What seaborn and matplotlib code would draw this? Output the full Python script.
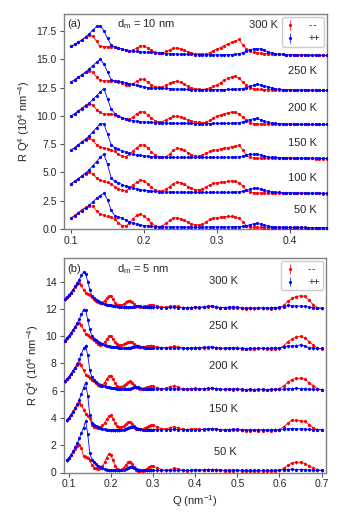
import numpy as np
import pandas as pd
import matplotlib
matplotlib.use("Agg")
import matplotlib.pyplot as plt
from matplotlib.ticker import FormatStrFormatter
import seaborn as sns

nan = np.nan

# ---------------- panel (a): d_m = 10 nm ----------------
q_a = np.round(np.arange(0.100, 0.4501, 0.005), 3)
temps_a = ["50 K", "100 K", "150 K", "200 K", "250 K", "300 K"]
offsets_a = [0, 3, 6, 9, 12, 15]

a50_mm = [0.95, 1.20, 1.45, 1.70, 1.90, 2.05, 2.00, 1.60, 1.30, 1.20,
          1.10, 1.05, 0.85, 0.55, 0.30, 0.25, 0.50, 0.90, 1.20, 1.32,
          1.15, 0.85, 0.50, 0.30, 0.20, 0.25, 0.50, 0.75, 0.95, 1.00,
          0.90, 0.75, 0.60, 0.45, 0.38, 0.35, 0.40, 0.60, 0.85, 0.95,
          1.00, 1.05, 1.08, 1.10, 1.10, 1.08, 0.95, 0.65, 0.30, 0.18,
          0.15, 0.14, 0.13, 0.12, 0.12, 0.12, 0.11, 0.12, 0.11, 0.11,
          0.10, 0.10, 0.10, 0.11, 0.10, 0.10, 0.09, 0.10, 0.09, 0.09,
          0.09]
a50_pp = [0.95, 1.15, 1.40, 1.62, 1.85, 2.10, 2.40, 2.70, 2.95, 3.15,
          2.60, 1.65, 1.15, 1.05, 0.95, 0.80, 0.62, 0.50, 0.42, 0.36,
          0.30, 0.26, 0.22, 0.20, 0.18, 0.17, 0.17, 0.17, 0.18, 0.18,
          0.17, 0.17, 0.16, 0.16, 0.15, 0.15, 0.16, 0.17, 0.18, 0.17,
          0.17, 0.18, 0.17, 0.17, 0.18, 0.18, 0.20, 0.22, 0.28, 0.38,
          0.45, 0.48, 0.42, 0.32, 0.25, 0.20, 0.17, 0.16, 0.15, 0.15,
          0.14, 0.14, 0.13, 0.13, 0.13, 0.12, 0.12, 0.12, 0.12, 0.12,
          0.12]
a100_mm = [0.97, 1.20, 1.45, 1.68, 1.88, 2.00, 1.90, 1.50, 1.30, 1.20,
           1.12, 1.00, 0.70, 0.55, 0.42, 0.38, 0.60, 0.90, 1.15, 1.30,
           1.28, 1.00, 0.68, 0.45, 0.33, 0.35, 0.50, 0.75, 1.00, 1.15,
           1.10, 0.95, 0.75, 0.58, 0.48, 0.44, 0.50, 0.70, 0.90, 1.02,
           1.08, 1.12, 1.15, 1.20, 1.24, 1.22, 1.10, 0.80, 0.42, 0.25,
           0.20, 0.18, 0.18, 0.17, 0.17, 0.17, 0.16, 0.16, 0.16, 0.16,
           0.15, 0.15, 0.15, 0.15, 0.14, 0.14, 0.14, 0.14, 0.14, 0.13,
           0.13]
a100_pp = [0.97, 1.20, 1.45, 1.70, 1.95, 2.25, 2.60, 2.95, 3.35, 3.60,
           2.70, 1.50, 1.20, 1.10, 0.92, 0.80, 0.70, 0.60, 0.52, 0.46,
           0.42, 0.38, 0.34, 0.31, 0.29, 0.28, 0.27, 0.26, 0.26, 0.25,
           0.25, 0.25, 0.24, 0.24, 0.23, 0.23, 0.23, 0.23, 0.24, 0.24,
           0.24, 0.24, 0.24, 0.24, 0.25, 0.26, 0.28, 0.32, 0.40, 0.50,
           0.58, 0.60, 0.50, 0.40, 0.33, 0.28, 0.25, 0.23, 0.22, 0.21,
           0.20, 0.19, 0.19, 0.18, 0.18, 0.17, 0.17, 0.16, 0.16, 0.15,
           0.15]
a150_mm = [0.95, 1.18, 1.42, 1.65, 1.88, 2.00, 1.85, 1.45, 1.25, 1.17,
           1.10, 1.00, 0.85, 0.60, 0.45, 0.40, 0.60, 0.90, 1.20, 1.45,
           1.42, 1.20, 0.80, 0.55, 0.40, 0.33, 0.40, 0.60, 0.95, 1.12,
           1.10, 0.95, 0.75, 0.58, 0.47, 0.44, 0.50, 0.70, 0.85, 0.95,
           1.02, 1.08, 1.12, 1.20, 1.28, 1.33, 1.42, 1.00, 0.50, 0.32,
           0.28, 0.27, 0.26, 0.26, 0.25, 0.25, 0.25, 0.25, 0.24, 0.24,
           0.24, 0.24, 0.24, 0.23, 0.23, 0.23, 0.23, 0.22, 0.22, 0.22,
           0.22]
a150_pp = [0.97, 1.20, 1.45, 1.70, 1.95, 2.25, 2.60, 2.95, 3.30, 3.30,
           2.40, 1.45, 1.15, 1.05, 0.90, 0.78, 0.68, 0.60, 0.55, 0.50,
           0.46, 0.43, 0.40, 0.38, 0.36, 0.35, 0.35, 0.34, 0.34, 0.33,
           0.33, 0.33, 0.32, 0.32, 0.32, 0.32, 0.32, 0.33, 0.33, 0.33,
           0.33, 0.33, 0.34, 0.34, 0.35, 0.36, 0.38, 0.45, 0.55, 0.60,
           0.62, 0.60, 0.53, 0.45, 0.38, 0.34, 0.32, 0.31, 0.30, 0.29,
           0.28, 0.28, 0.27, 0.27, 0.26, 0.26, 0.25, 0.25, 0.24, 0.24,
           0.24]
a200_mm = [0.97, 1.20, 1.45, 1.70, 1.95, 2.08, 1.95, 1.55, 1.30, 1.20,
           1.17, 1.15, 1.10, 0.95, 0.85, 0.72, 0.70, 0.90, 1.20, 1.38,
           1.35, 1.10, 0.80, 0.58, 0.47, 0.50, 0.65, 0.82, 0.95, 0.97,
           0.90, 0.78, 0.65, 0.56, 0.48, 0.42, 0.38, 0.42, 0.60, 0.82,
           0.97, 1.08, 1.18, 1.28, 1.35, 1.33, 1.18, 0.90, 0.60, 0.40,
           0.32, 0.30, 0.29, 0.28, 0.28, 0.27, 0.27, 0.27, 0.26, 0.26,
           0.26, 0.26, 0.25, 0.25, 0.25, 0.25, 0.24, 0.24, 0.24, 0.24,
           0.24]
a200_pp = [0.97, 1.18, 1.40, 1.62, 1.88, 2.15, 2.45, 2.80, 3.10, 3.42,
           2.50, 1.60, 1.20, 1.00, 0.85, 0.72, 0.65, 0.58, 0.53, 0.49,
           0.46, 0.44, 0.42, 0.40, 0.39, 0.38, 0.37, 0.36, 0.35, 0.35,
           0.34, 0.34, 0.33, 0.33, 0.32, 0.32, 0.32, 0.32, 0.32, 0.33,
           0.33, 0.33, 0.33, 0.34, 0.35, 0.37, 0.40, 0.48, 0.58, 0.68,
           0.75, 0.77, 0.65, 0.52, 0.42, 0.36, 0.33, 0.31, 0.30, 0.29,
           0.28, 0.28, 0.27, 0.27, 0.26, 0.26, 0.25, 0.25, 0.25, 0.24,
           0.24]
a250_mm = [1.00, 1.20, 1.42, 1.65, 1.85, 2.00, 1.85, 1.45, 1.15, 1.10,
           1.12, 1.12, 1.05, 1.00, 0.90, 0.75, 0.72, 0.85, 1.05, 1.22,
           1.22, 1.00, 0.75, 0.58, 0.52, 0.55, 0.70, 0.88, 1.02, 1.06,
           0.98, 0.82, 0.62, 0.50, 0.42, 0.36, 0.33, 0.38, 0.50, 0.62,
           0.72, 0.95, 1.20, 1.32, 1.45, 1.53, 1.35, 1.02, 0.70, 0.50,
           0.40, 0.36, 0.34, 0.33, 0.32, 0.32, 0.31, 0.31, 0.30, 0.30,
           0.29, 0.29, 0.29, 0.28, 0.28, 0.28, 0.27, 0.27, 0.27, 0.26,
           0.26]
a250_pp = [1.00, 1.20, 1.42, 1.65, 1.90, 2.15, 2.45, 2.75, 3.00, 2.60,
           1.90, 1.20, 1.10, 1.05, 1.00, 0.92, 0.85, 0.78, 0.70, 0.62,
           0.56, 0.50, 0.48, 0.46, 0.45, 0.44, 0.43, 0.41, 0.39, 0.37,
           0.36, 0.35, 0.34, 0.33, 0.33, 0.32, 0.32, 0.32, 0.32, 0.32,
           0.33, 0.33, 0.33, 0.34, 0.35, 0.36, 0.38, 0.42, 0.50, 0.62,
           0.72, 0.80, 0.75, 0.65, 0.56, 0.47, 0.40, 0.35, 0.33, 0.32,
           0.31, 0.30, 0.30, 0.29, 0.29, 0.28, 0.28, 0.27, 0.27, 0.26,
           0.26]
a300_mm = [1.15, 1.32, 1.52, 1.72, 1.95, 2.12, 2.05, 1.60, 1.15, 1.12,
           1.12, 1.12, 1.10, 1.02, 0.92, 0.85, 0.78, 0.82, 1.00, 1.18,
           1.20, 1.02, 0.80, 0.62, 0.56, 0.58, 0.70, 0.85, 0.98, 1.02,
           0.95, 0.80, 0.66, 0.58, 0.52, 0.48, 0.45, 0.47, 0.60, 0.78,
           0.92, 1.05, 1.22, 1.38, 1.50, 1.62, 1.77, 1.30, 0.95, 0.72,
           0.62, 0.58, 0.55, 0.52, 0.50, 0.48, 0.47, 0.45, 0.44, 0.43,
           0.42, 0.41, 0.40, 0.40, 0.39, 0.38, 0.38, 0.37, 0.36, 0.36,
           0.35]
a300_pp = [1.15, 1.32, 1.52, 1.75, 2.00, 2.28, 2.60, 2.92, 2.95, 2.55,
           1.85, 1.30, 1.08, 0.98, 0.90, 0.82, 0.76, 0.72, 0.70, 0.68,
           0.66, 0.64, 0.62, 0.60, 0.56, 0.53, 0.50, 0.49, 0.48, 0.47,
           0.46, 0.45, 0.45, 0.44, 0.43, 0.42, 0.42, 0.41, 0.41, 0.41,
           0.41, 0.41, 0.42, 0.42, 0.43, 0.45, 0.50, 0.60, 0.72, 0.85,
           0.93, 0.96, 0.92, 0.80, 0.66, 0.56, 0.50, 0.46, 0.44, 0.42,
           0.41, 0.40, 0.39, 0.39, 0.38, 0.38, 0.37, 0.37, 0.36, 0.36,
           0.35]
red_a = [a50_mm, a100_mm, a150_mm, a200_mm, a250_mm, a300_mm]
blue_a = [a50_pp, a100_pp, a150_pp, a200_pp, a250_pp, a300_pp]

# ---------------- panel (b): d_m = 5 nm ----------------
q_b = np.round(np.concatenate([np.arange(0.090, 0.3001, 0.005),
                               np.arange(0.31, 0.7001, 0.01)]), 3)
temps_b = ["50 K", "150 K", "200 K", "250 K", "300 K"]
offsets_b = [0, 3, 6, 9, 12]

b50_mm = [nan, 0.90, 1.05, 1.28, 1.50, 1.72, 1.92, 2.05, 1.80, 1.20,
          1.15, 1.10, 0.90, 0.55, 0.35, 0.30, 0.28, 0.30, 0.45, 0.75,
          1.10, 1.38, 1.30, 0.90, 0.50, 0.25, 0.20, 0.22, 0.35, 0.55,
          0.75, 0.80, 0.65, 0.40, 0.18, 0.10, 0.10, 0.12, 0.18, 0.28,
          0.38, 0.45, 0.45,
          0.35, 0.22, 0.15, 0.20, 0.30, 0.25, 0.15, 0.12, 0.15, 0.20,
          0.18, 0.15, 0.22, 0.20, 0.15, 0.15, 0.10, 0.12, 0.10, 0.15,
          0.10, 0.08, 0.08, 0.10, 0.10, 0.12, 0.10, 0.08, 0.10, 0.18,
          0.30, 0.55, 0.70, 0.75, 0.75, 0.65, 0.50, 0.35, 0.20, 0.15]
b50_pp = [nan, 0.90, 1.05, 1.28, 1.55, 1.85, 2.15, 2.50, 2.90, 3.30,
          3.80, 2.80, 1.40, 0.95, 0.75, 0.60, 0.48, 0.38, 0.30, 0.24,
          0.20, 0.17, 0.16, 0.15, 0.15, 0.15, 0.16, 0.18, 0.22, 0.28,
          0.35, 0.40, 0.40, 0.35, 0.28, 0.22, 0.18, 0.16, 0.15, 0.15,
          0.15, 0.16, 0.16,
          0.16, 0.15, 0.15, 0.16, 0.17, 0.16, 0.15, 0.15, 0.16, 0.17,
          0.18, 0.20, 0.22, 0.22, 0.20, 0.18, 0.16, 0.17, 0.18, 0.17,
          0.16, 0.15, 0.15, 0.15, 0.16, 0.16, 0.15, 0.15, 0.16, 0.17,
          0.20, 0.22, 0.24, 0.22, 0.22, 0.20, 0.18, 0.17, 0.16, 0.16]
b150_mm = [nan, 0.83, 1.00, 1.25, 1.50, 1.72, 1.95, 2.08, 1.95, 1.60,
           1.32, 1.15, 0.97, 0.50, 0.35, 0.32, 0.30, 0.32, 0.45, 0.65,
           0.90, 1.15, 1.20, 0.95, 0.60, 0.38, 0.32, 0.34, 0.42, 0.55,
           0.68, 0.70, 0.58, 0.38, 0.22, 0.20, 0.18, 0.20, 0.25, 0.32,
           0.40, 0.45, 0.46,
           0.35, 0.22, 0.20, 0.28, 0.35, 0.28, 0.18, 0.15, 0.18, 0.20,
           0.18, 0.15, 0.18, 0.22, 0.18, 0.12, 0.12, 0.15, 0.12, 0.12,
           0.10, 0.08, 0.08, 0.10, 0.08, 0.08, 0.10, 0.08, 0.10, 0.15,
           0.35, 0.62, 0.85, 0.82, 0.80, 0.75, 0.50, 0.30, 0.15, 0.12]
b150_pp = [nan, 0.83, 1.00, 1.22, 1.45, 1.72, 2.00, 2.35, 2.75, 3.20,
           3.60, 2.60, 1.20, 0.65, 0.50, 0.42, 0.35, 0.28, 0.22, 0.18,
           0.15, 0.12, 0.10, 0.10, 0.10, 0.10, 0.10, 0.12, 0.15, 0.22,
           0.28, 0.32, 0.34, 0.32, 0.28, 0.22, 0.18, 0.15, 0.14, 0.14,
           0.15, 0.15, 0.15,
           0.15, 0.14, 0.14, 0.15, 0.16, 0.15, 0.14, 0.13, 0.14, 0.15,
           0.15, 0.17, 0.20, 0.20, 0.17, 0.14, 0.13, 0.15, 0.17, 0.16,
           0.13, 0.12, 0.13, 0.12, 0.13, 0.14, 0.12, 0.13, 0.14, 0.15,
           0.17, 0.20, 0.22, 0.20, 0.20, 0.18, 0.16, 0.15, 0.14, 0.14]
b200_mm = [0.68, 0.85, 1.02, 1.25, 1.48, 1.70, 1.92, 2.02, 1.85, 1.50,
           1.18, 1.08, 0.95, 0.80, 0.72, 0.60, 0.45, 0.38, 0.42, 0.60,
           0.85, 1.08, 1.10, 0.85, 0.55, 0.35, 0.28, 0.30, 0.38, 0.50,
           0.62, 0.68, 0.60, 0.42, 0.25, 0.18, 0.15, 0.16, 0.20, 0.25,
           0.30, 0.34, 0.32,
           0.22, 0.15, 0.18, 0.30, 0.38, 0.25, 0.15, 0.12, 0.15, 0.18,
           0.15, 0.12, 0.15, 0.20, 0.15, 0.10, 0.10, 0.12, 0.08, 0.10,
           0.06, 0.05, 0.05, 0.08, 0.06, 0.08, 0.05, 0.06, 0.10, 0.15,
           0.35, 0.62, 0.82, 0.90, 0.93, 0.85, 0.60, 0.38, 0.15, 0.08]
b200_pp = [0.68, 0.85, 1.02, 1.22, 1.45, 1.70, 1.98, 2.30, 2.70, 3.10,
           3.30, 2.60, 1.50, 1.00, 0.76, 0.62, 0.52, 0.44, 0.38, 0.33,
           0.28, 0.25, 0.22, 0.20, 0.18, 0.16, 0.15, 0.14, 0.13, 0.13,
           0.14, 0.16, 0.20, 0.24, 0.26, 0.24, 0.20, 0.16, 0.14, 0.13,
           0.13, 0.13, 0.13,
           0.12, 0.12, 0.12, 0.14, 0.14, 0.12, 0.12, 0.10, 0.12, 0.13,
           0.12, 0.14, 0.17, 0.18, 0.14, 0.12, 0.10, 0.12, 0.13, 0.14,
           0.10, 0.08, 0.10, 0.08, 0.10, 0.10, 0.08, 0.10, 0.10, 0.10,
           0.12, 0.15, 0.15, 0.18, 0.15, 0.14, 0.12, 0.10, 0.10, 0.08]
b250_mm = [0.68, 0.85, 1.02, 1.22, 1.45, 1.68, 1.90, 2.00, 1.80, 1.45,
           1.15, 1.05, 0.95, 0.85, 0.75, 0.60, 0.45, 0.38, 0.40, 0.55,
           0.80, 1.00, 1.02, 0.80, 0.55, 0.40, 0.35, 0.35, 0.40, 0.50,
           0.58, 0.60, 0.55, 0.42, 0.30, 0.22, 0.18, 0.18, 0.20, 0.25,
           0.28, 0.30, 0.28,
           0.20, 0.15, 0.15, 0.20, 0.25, 0.20, 0.12, 0.10, 0.12, 0.15,
           0.12, 0.12, 0.15, 0.18, 0.15, 0.12, 0.10, 0.12, 0.10, 0.12,
           0.08, 0.05, 0.05, 0.08, 0.10, 0.10, 0.08, 0.05, 0.08, 0.12,
           0.30, 0.60, 0.80, 0.95, 0.98, 0.88, 0.60, 0.35, 0.12, 0.08]
b250_pp = [0.68, 0.85, 1.02, 1.22, 1.45, 1.70, 1.95, 2.25, 2.60, 2.95,
           2.90, 2.20, 1.50, 1.00, 0.82, 0.70, 0.60, 0.50, 0.42, 0.36,
           0.30, 0.26, 0.24, 0.22, 0.20, 0.18, 0.16, 0.15, 0.14, 0.14,
           0.15, 0.16, 0.18, 0.22, 0.25, 0.25, 0.22, 0.18, 0.16, 0.15,
           0.15, 0.15, 0.15,
           0.14, 0.13, 0.13, 0.15, 0.15, 0.13, 0.12, 0.12, 0.13, 0.15,
           0.15, 0.17, 0.20, 0.20, 0.16, 0.13, 0.12, 0.13, 0.15, 0.15,
           0.10, 0.08, 0.10, 0.10, 0.12, 0.12, 0.10, 0.12, 0.15, 0.12,
           0.20, 0.25, 0.28, 0.30, 0.37, 0.28, 0.15, 0.12, 0.10, 0.10]
b300_mm = [0.70, 0.85, 1.00, 1.20, 1.40, 1.60, 1.80, 1.90, 1.75, 1.40,
           1.20, 1.10, 1.05, 0.90, 0.70, 0.55, 0.50, 0.45, 0.45, 0.60,
           0.80, 0.95, 0.95, 0.70, 0.45, 0.30, 0.25, 0.28, 0.35, 0.48,
           0.58, 0.60, 0.50, 0.35, 0.22, 0.18, 0.15, 0.15, 0.18, 0.22,
           0.25, 0.28, 0.27,
           0.20, 0.15, 0.12, 0.18, 0.22, 0.18, 0.10, 0.08, 0.10, 0.12,
           0.10, 0.12, 0.15, 0.18, 0.12, 0.08, 0.10, 0.08, 0.07, 0.10,
           0.05, 0.02, 0.05, 0.03, 0.06, 0.05, 0.08, 0.02, 0.05, 0.05,
           0.25, 0.55, 0.80, 0.90, 0.97, 0.92, 0.65, 0.30, 0.08, 0.05]
b300_pp = [0.70, 0.85, 1.00, 1.20, 1.42, 1.65, 1.90, 2.15, 2.45, 2.70,
           2.55, 2.00, 1.40, 0.95, 0.80, 0.68, 0.60, 0.50, 0.40, 0.35,
           0.30, 0.28, 0.26, 0.24, 0.20, 0.18, 0.15, 0.14, 0.12, 0.12,
           0.12, 0.13, 0.14, 0.16, 0.20, 0.22, 0.20, 0.16, 0.14, 0.13,
           0.12, 0.12, 0.12,
           0.12, 0.10, 0.10, 0.12, 0.12, 0.10, 0.10, 0.10, 0.10, 0.12,
           0.12, 0.15, 0.20, 0.22, 0.15, 0.10, 0.10, 0.12, 0.15, 0.12,
           0.08, 0.05, 0.08, 0.05, 0.08, 0.08, 0.05, 0.08, 0.10, 0.12,
           0.15, 0.25, 0.22, 0.20, 0.22, 0.18, 0.12, 0.08, 0.06, 0.05]
red_b = [b50_mm, b150_mm, b200_mm, b250_mm, b300_mm]
blue_b = [b50_pp, b150_pp, b200_pp, b250_pp, b300_pp]

err_a = 0.08
err_b = 0.10
legend_labels = ["-\u200a-", "++"]

# ---------------- style ----------------
sns.set_theme(style="ticks")
plt.rcParams["font.family"] = ["Liberation Sans", "DejaVu Sans"]
plt.rcParams["mathtext.default"] = "regular"

RED = "#ff0000"
BLUE = "#0000ff"

fig = plt.figure(figsize=(3.5, 5.25), dpi=100)
ax_a = fig.add_axes([0.182, 0.564, 0.751, 0.409])
ax_b = fig.add_axes([0.182, 0.100, 0.749, 0.409])


def draw_panel(ax, q, offsets, reds, blues, err):
    handles = []
    for k, off in enumerate(offsets):
        for vals, col in ((reds[k], RED), (blues[k], BLUE)):
            y = np.asarray(vals, dtype=float) + off
            df = pd.DataFrame({"Q": q, "R": y}).dropna()
            sns.lineplot(data=df, x="Q", y="R", color=col, lw=0.6,
                         ax=ax, legend=False, zorder=2)
            h = ax.errorbar(df["Q"], df["R"], yerr=err, fmt="o", ms=2.3,
                            mew=0, color=col, ecolor=col, elinewidth=0.5,
                            capsize=0, zorder=3)
            if k == 0:
                handles.append(h)
    return handles


h_a = draw_panel(ax_a, q_a, offsets_a, red_a, blue_a, err_a)
h_b = draw_panel(ax_b, q_b, offsets_b, red_b, blue_b, err_b)

ax_a.set_xlim(0.09, 0.45)
ax_a.set_ylim(0, 19.0)
ax_a.set_xticks([0.1, 0.2, 0.3, 0.4])
ax_a.set_yticks(np.arange(0, 17.6, 2.5))
ax_a.yaxis.set_major_formatter(FormatStrFormatter("%.1f"))

ax_b.set_xlim(0.088, 0.71)
ax_b.set_ylim(0, 15.75)
ax_b.set_xticks([0.1, 0.2, 0.3, 0.4, 0.5, 0.6, 0.7])
ax_b.set_yticks(np.arange(0, 14.1, 2))

for ax in (ax_a, ax_b):
    ax.set_xlabel("")
    ax.set_ylabel("R Q$^4$ (10$^4$ nm$^{-4}$)", fontsize=8, labelpad=3)
    ax.tick_params(direction="out", length=3, width=0.8, labelsize=7.5,
                   color="#555555", pad=2)
    for s in ax.spines.values():
        s.set_color("#808080")
        s.set_linewidth(1.0)
    ax.legend(handles=(h_a if ax is ax_a else h_b), labels=legend_labels,
              loc="upper right", fontsize=7, frameon=True, fancybox=True,
              edgecolor="#c0c0c0", handlelength=1.0, handletextpad=1.4,
              borderpad=0.35, labelspacing=0.3, borderaxespad=0.3)

ax_b.set_xlabel("Q (nm$^{-1}$)", fontsize=8, labelpad=3)

# panel annotations
ax_a.text(0.0945, 18.1, "(a)", fontsize=8, va="center", ha="left")
ax_a.text(0.163, 18.1, "d$_m$ = 10 nm", fontsize=8, va="center", ha="left")
ax_b.text(0.096, 14.93, "(b)", fontsize=8, va="center", ha="left")
ax_b.text(0.2145, 14.93, "d$_m$ = 5 nm", fontsize=8, va="center", ha="left")

# temperature labels
pos_a = {"300 K": (0.383, 18.0), "250 K": (0.437, 13.97),
         "200 K": (0.437, 10.74), "150 K": (0.437, 7.56),
         "100 K": (0.437, 4.47), "50 K": (0.437, 1.68)}
for t in temps_a:
    x, y = pos_a[t]
    ax_a.text(x, y, t, fontsize=8, ha="right", va="center")

pos_b = {"300 K": (0.467, 14.08), "250 K": (0.467, 10.78),
         "200 K": (0.467, 7.8), "150 K": (0.467, 4.63), "50 K": (0.471, 1.51)}
for t in temps_b:
    x, y = pos_b[t]
    ax_b.text(x, y, t, fontsize=8, ha="center", va="center")

fig.savefig("out.png", dpi=100)
